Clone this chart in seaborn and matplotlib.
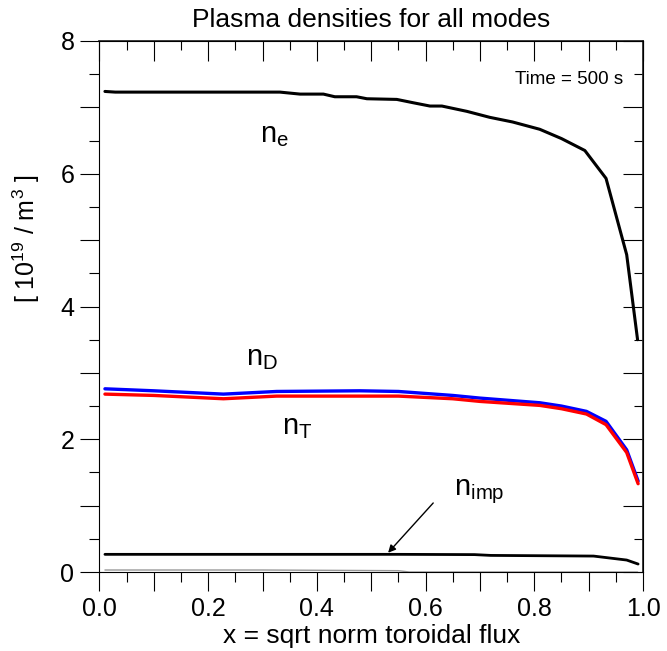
import matplotlib
matplotlib.use("Agg")
import matplotlib.pyplot as plt
from matplotlib.ticker import MultipleLocator, FuncFormatter, NullFormatter
import seaborn as sns
import pandas as pd

# ---- data ----
x_ne = [0.010, 0.029, 0.10, 0.20, 0.30, 0.332, 0.369, 0.412, 0.433, 0.473, 0.492,
        0.547, 0.577, 0.608, 0.630, 0.676, 0.718, 0.76, 0.810, 0.85, 0.893, 0.932,
        0.970, 0.99]
n_e = [7.24, 7.23, 7.23, 7.23, 7.23, 7.23, 7.20, 7.20, 7.16, 7.16, 7.13,
       7.12, 7.07, 7.02, 7.02, 6.94, 6.85, 6.78, 6.67, 6.53, 6.35, 5.93,
       4.78, 3.50]

x_ion = [0.010, 0.10, 0.228, 0.326, 0.479, 0.55, 0.60, 0.65, 0.70, 0.81, 0.85,
         0.896, 0.932, 0.970, 0.991]
n_D = [2.76, 2.73, 2.68, 2.72, 2.73, 2.72, 2.69, 2.66, 2.62, 2.55, 2.50,
       2.42, 2.27, 1.84, 1.37]
n_T = [2.68, 2.66, 2.61, 2.65, 2.65, 2.65, 2.63, 2.61, 2.57, 2.51, 2.46,
       2.38, 2.22, 1.80, 1.33]

x_imp = [0.010, 0.30, 0.55, 0.69, 0.72, 0.909, 0.97, 0.991]
n_imp = [0.266, 0.266, 0.266, 0.262, 0.25, 0.24, 0.18, 0.12]

x_small = [0.010, 0.30, 0.55, 0.57, 0.99]
n_small = [0.03, 0.03, 0.02, 0.0, 0.0]

title = "Plasma densities for all modes"
xlabel = "x = sqrt norm toroidal flux"
ylabel = r"[ 10$^{19}$ / m$^{3}$ ]"
time_text = "Time = 500 s"

# ---- style ----
sns.set_theme(style="white")
plt.rcParams["font.family"] = ["Liberation Sans", "DejaVu Sans"]
plt.rcParams["mathtext.default"] = "regular"
plt.rcParams["text.color"] = "black"
plt.rcParams["axes.labelcolor"] = "black"
plt.rcParams["xtick.color"] = "black"
plt.rcParams["ytick.color"] = "black"

fig = plt.figure(figsize=(6.67, 6.51), dpi=100)
ax = fig.add_axes([99.5 / 667, 1 - 572 / 651, (643 - 99.5) / 667, (572 - 41) / 651])

def draw(xs, ys, color, lw):
    df = pd.DataFrame({"x": xs, "y": ys})
    sns.lineplot(data=df, x="x", y="y", ax=ax, color=color, lw=lw,
                 sort=False, estimator=None)

draw(x_small, n_small, "#999999", 1.0)
draw(x_imp, n_imp, "black", 2.0)
draw(x_ion, n_D, "#0000ff", 2.4)
draw(x_ion, n_T, "#ff0000", 2.4)
draw(x_ne, n_e, "black", 2.2)

ax.set_xlim(0, 1)
ax.set_ylim(0, 8)

for s in ax.spines.values():
    s.set_visible(True)
    s.set_color("black")
    s.set_linewidth(0.8)

ax.xaxis.set_major_locator(MultipleLocator(0.1))
ax.xaxis.set_minor_locator(MultipleLocator(0.05))
ax.xaxis.set_major_formatter(FuncFormatter(
    lambda v, p: f"{v:.1f}" if abs(round(v * 10) % 2) == 0 else ""))
ax.yaxis.set_major_locator(MultipleLocator(1))
ax.yaxis.set_minor_locator(MultipleLocator(0.5))
ax.yaxis.set_major_formatter(FuncFormatter(
    lambda v, p: f"{int(round(v))}" if int(round(v)) % 2 == 0 else ""))

ax.tick_params(axis="both", which="major", direction="out", length=14, width=0.8,
               labelsize=18, colors="black", pad=4, bottom=True, left=True,
               top=False, right=False)
ax.tick_params(axis="both", which="minor", direction="out", length=7, width=0.8,
               colors="black", bottom=True, left=True, top=False, right=False)

secx = ax.secondary_xaxis("top")
secx.xaxis.set_major_locator(MultipleLocator(0.1))
secx.xaxis.set_minor_locator(MultipleLocator(0.05))
secx.xaxis.set_major_formatter(NullFormatter())
secx.tick_params(which="major", direction="in", length=14.5, width=0.8, colors="black")
secx.tick_params(which="minor", direction="in", length=6.5, width=0.8, colors="black")

secy = ax.secondary_yaxis("right")
secy.yaxis.set_major_locator(MultipleLocator(1))
secy.yaxis.set_minor_locator(MultipleLocator(0.5))
secy.yaxis.set_major_formatter(NullFormatter())
secy.tick_params(which="major", direction="in", length=14.5, width=0.8, colors="black")
secy.tick_params(which="minor", direction="in", length=6.5, width=0.8, colors="black")

ax.set_title(title, fontsize=19, y=1.0, pad=10, color="black")
ax.set_xlabel(xlabel, fontsize=19, labelpad=2)
ax.set_ylabel(ylabel, fontsize=18)
ax.yaxis.set_label_coords(-0.105, 0.627)

ax.text(0.963, 7.42, time_text, fontsize=13.5, ha="right", va="center")

lab = 21
ax.text(0.295, 6.47, r"n$_e$", fontsize=lab, ha="left", va="baseline")
ax.text(0.270, 3.11, r"n$_D$", fontsize=lab, ha="left", va="baseline")
ax.text(0.336, 2.08, r"n$_T$", fontsize=lab, ha="left", va="baseline")
ax.text(0.653, 1.16, r"n$_{imp}$", fontsize=lab, ha="left", va="baseline")

ax.annotate("", xy=(0.531, 0.29), xytext=(0.614, 1.04),
            arrowprops=dict(arrowstyle="-|>", color="black", lw=1.0,
                            mutation_scale=11, shrinkA=0, shrinkB=0))

fig.savefig("out.png", dpi=100)
